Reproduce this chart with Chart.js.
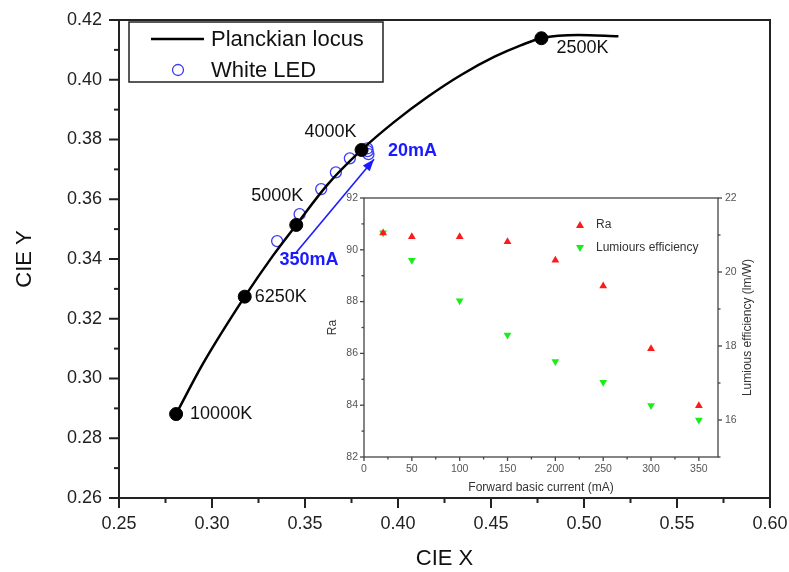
<!DOCTYPE html>
<html>
<head>
<meta charset="utf-8">
<script src="https://cdn.jsdelivr.net/npm/chart.js@4.4.1/dist/chart.umd.min.js"></script>
<style>
    body { margin: 0; background: #fff; }
    #wrap { position: relative; width: 789px; height: 572px; }
    #inset { position: absolute; left: 320px; top: 180px; }
</style>
</head>
<body>
<div id="wrap">
    <canvas id="main" width="789" height="572"></canvas>
    <canvas id="inset" width="445" height="315"></canvas>
</div>
<script>
// datos
const locusX = [0.2807, 0.2950, 0.3176, 0.3324, 0.3453, 0.3620, 0.3804, 0.3980, 0.4160, 0.4339, 0.4519, 0.4663, 0.4771, 0.4969, 0.5185];
const locusY = [0.2881, 0.3048, 0.3274, 0.3408, 0.3514, 0.3648, 0.3765, 0.3859, 0.3943, 0.4016, 0.4077, 0.4116, 0.4139, 0.4150, 0.4146];

const cctLabels = ['10000K', '6250K', '5000K', '4000K', '2500K'];
const cctX = [0.2807, 0.3176, 0.3453, 0.3804, 0.4771];
const cctY = [0.2881, 0.3274, 0.3514, 0.3765, 0.4139];

const currentMA = [20, 50, 100, 150, 200, 250, 300, 350];
const ledX = [0.3841, 0.3837, 0.3835, 0.3741, 0.3666, 0.3587, 0.3471, 0.3350];
const ledY = [0.3751, 0.3761, 0.3770, 0.3737, 0.3690, 0.3634, 0.3550, 0.3460];

const arrowLabels = ['350mA', '20mA'];
const arrowX = [0.3449, 0.3871];
const arrowY = [0.3419, 0.3734];

const raValues = [90.65, 90.5, 90.5, 90.31, 89.6, 88.6, 86.18, 83.98];
const efficiency = [21.06, 20.32, 19.22, 18.3, 17.58, 17.02, 16.39, 16.0];

const FONT = '"Liberation Sans", Arial, sans-serif';
Chart.defaults.font.family = FONT;

const pares = (xs, ys) => xs.map((x, i) => ({ x: x, y: ys[i] }));

// tamaño fijo del eje, sin el relleno extra que Chart.js pone por las etiquetas
const fijarEje = (prop, valor) => s => {
    s[prop] = valor;
    s.paddingTop = 0; s.paddingBottom = 0; s.paddingLeft = 0; s.paddingRight = 0;
};

// marco y marcas de los ejes (mayores y menores)
const marcasEjes = {
    id: 'marcasEjes',
    afterDraw(chart, args, opts) {
        const { ctx, chartArea: a } = chart;
        ctx.save();
        ctx.strokeStyle = opts.color;
        ctx.lineWidth = opts.width;
        ctx.strokeRect(a.left, a.top, a.right - a.left, a.bottom - a.top);
        for (const ax of opts.axes) {
            const s = chart.scales[ax.id];
            const n = Math.floor((s.max - s.min) / ax.minor + 1e-6);
            for (let i = 0; i <= n; i++) {
                const v = s.min + i * ax.minor;
                const esMayor = Math.abs(v / ax.major - Math.round(v / ax.major)) < 1e-6;
                const len = esMayor ? opts.major : opts.minor;
                const p = s.getPixelForValue(v);
                ctx.beginPath();
                if (ax.side === 'bottom') { ctx.moveTo(p, a.bottom); ctx.lineTo(p, a.bottom + len); }
                if (ax.side === 'left') { ctx.moveTo(a.left, p); ctx.lineTo(a.left - len, p); }
                if (ax.side === 'right') { ctx.moveTo(a.right, p); ctx.lineTo(a.right + len, p); }
                ctx.stroke();
            }
        }
        ctx.restore();
    }
};

// etiquetas, flecha y leyenda del grafico principal
const anotaciones = {
    id: 'anotaciones',
    afterDatasetsDraw(chart) {
        const { ctx, chartArea: a } = chart;
        const sx = chart.scales.x, sy = chart.scales.y;
        ctx.save();

        // flecha
        const x0 = sx.getPixelForValue(arrowX[0]), y0 = sy.getPixelForValue(arrowY[0]);
        const x1 = sx.getPixelForValue(arrowX[1]), y1 = sy.getPixelForValue(arrowY[1]);
        const ang = Math.atan2(y1 - y0, x1 - x0);
        ctx.fillStyle = '#1a1aff';
        ctx.beginPath();
        ctx.moveTo(x1, y1);
        ctx.lineTo(x1 - 12 * Math.cos(ang) + 4.5 * Math.sin(ang), y1 - 12 * Math.sin(ang) - 4.5 * Math.cos(ang));
        ctx.lineTo(x1 - 12 * Math.cos(ang) - 4.5 * Math.sin(ang), y1 - 12 * Math.sin(ang) + 4.5 * Math.cos(ang));
        ctx.closePath();
        ctx.fill();

        ctx.font = 'bold 18px ' + FONT;
        ctx.textBaseline = 'middle';
        ctx.textAlign = 'left';
        ctx.fillText(arrowLabels[0], x0 - 16, y0 + 7);
        ctx.fillText(arrowLabels[1], x1 + 14, y1 - 8);

        // temperaturas de color
        const offs = [[14, 0, 'left'], [10, 0, 'left'], [7, -29, 'right'], [-5, -18, 'right'], [15, 10, 'left']];
        ctx.font = '18px ' + FONT;
        ctx.fillStyle = '#111';
        cctLabels.forEach((t, i) => {
            ctx.textAlign = offs[i][2];
            ctx.fillText(t, sx.getPixelForValue(cctX[i]) + offs[i][0], sy.getPixelForValue(cctY[i]) + offs[i][1]);
        });

        // leyenda
        const lx = a.left + 10, ly = a.top + 2;
        ctx.fillStyle = '#fff';
        ctx.fillRect(lx, ly, 254, 60);
        ctx.strokeStyle = '#222';
        ctx.lineWidth = 1.5;
        ctx.strokeRect(lx, ly, 254, 60);
        ctx.strokeStyle = '#000';
        ctx.lineWidth = 2.5;
        ctx.beginPath();
        ctx.moveTo(lx + 22, ly + 17);
        ctx.lineTo(lx + 75, ly + 17);
        ctx.stroke();
        ctx.strokeStyle = '#3c3cf5';
        ctx.lineWidth = 1.3;
        ctx.beginPath();
        ctx.arc(lx + 49, ly + 48, 5.5, 0, Math.PI * 2);
        ctx.stroke();
        ctx.fillStyle = '#111';
        ctx.font = '22px ' + FONT;
        ctx.textAlign = 'left';
        ctx.fillText('Planckian locus', lx + 82, ly + 18);
        ctx.fillText('White LED', lx + 82, ly + 49);
        ctx.restore();
    }
};

new Chart(document.getElementById('main'), {
    type: 'scatter',
    data: {
        datasets: [
            {
                label: 'Planckian locus',
                data: pares(locusX, locusY),
                showLine: true,
                borderColor: '#000',
                borderWidth: 2.5,
                pointRadius: 0,
                cubicInterpolationMode: 'monotone'
            },
            {
                label: 'CCT',
                data: pares(cctX, cctY),
                pointRadius: 6.5,
                backgroundColor: '#000',
                borderColor: '#000'
            },
            {
                label: 'White LED',
                data: pares(ledX, ledY),
                pointRadius: 5.5,
                borderWidth: 1.3,
                borderColor: '#3c3cf5',
                backgroundColor: 'rgba(0,0,0,0)'
            },
            {
                label: 'arrow',
                data: pares(arrowX, arrowY),
                showLine: true,
                borderColor: '#1a1aff',
                borderWidth: 1.6,
                pointRadius: 0
            }
        ]
    },
    options: {
        responsive: false,
        animation: false,
        devicePixelRatio: 1,
        layout: { padding: { top: 20, right: 19, left: 0, bottom: 0 } },
        scales: {
            x: {
                type: 'linear', min: 0.25, max: 0.60,
                grid: { display: false, drawTicks: false },
                border: { display: false },
                ticks: { stepSize: 0.05, padding: 15, color: '#222', font: { size: 18 }, callback: v => v.toFixed(2) },
                title: { display: true, text: 'CIE X', color: '#111', font: { size: 22 }, padding: { top: 0, bottom: 0 } },
                afterFit: fijarEje('height', 74)
            },
            y: {
                type: 'linear', min: 0.26, max: 0.42,
                grid: { display: false, drawTicks: false },
                border: { display: false },
                ticks: { stepSize: 0.02, padding: 17, color: '#222', font: { size: 18 }, callback: v => v.toFixed(2) },
                title: { display: true, text: 'CIE Y', color: '#111', font: { size: 22 }, padding: { top: 12, bottom: 0 } },
                afterFit: fijarEje('width', 119)
            }
        },
        plugins: {
            legend: { display: false },
            tooltip: { enabled: false },
            marcasEjes: {
                color: '#222', width: 2, major: 10, minor: 5,
                axes: [
                    { id: 'x', side: 'bottom', major: 0.05, minor: 0.025 },
                    { id: 'y', side: 'left', major: 0.02, minor: 0.01 }
                ]
            }
        }
    },
    plugins: [marcasEjes, anotaciones]
});

// leyenda y titulo derecho del grafico insertado
const extrasInset = {
    id: 'extrasInset',
    afterDraw(chart) {
        const { ctx, chartArea: a } = chart;
        ctx.save();
        const lx = a.left + 216, ly = a.top + 27;
        [['#ff1a1a', 0, 'Ra'], ['#1aee1a', Math.PI, 'Lumiours efficiency']].forEach((it, i) => {
            const y = ly + i * 23;
            ctx.fillStyle = it[0];
            ctx.beginPath();
            const d = it[1] ? -1 : 1;
            ctx.moveTo(lx, y - 4 * d);
            ctx.lineTo(lx + 4, y + 3 * d);
            ctx.lineTo(lx - 4, y + 3 * d);
            ctx.closePath();
            ctx.fill();
            ctx.fillStyle = '#333';
            ctx.font = '12px ' + FONT;
            ctx.textAlign = 'left';
            ctx.textBaseline = 'middle';
            ctx.fillText(it[2], lx + 16, y);
        });
        ctx.translate(a.right + 30, (a.top + a.bottom) / 2);
        ctx.rotate(-Math.PI / 2);
        ctx.textAlign = 'center';
        ctx.fillStyle = '#333';
        ctx.font = '12px ' + FONT;
        ctx.fillText('Lumious efficiency (lm/W)', 0, 0);
        ctx.restore();
    }
};

new Chart(document.getElementById('inset'), {
    type: 'scatter',
    data: {
        datasets: [
            {
                label: 'Ra',
                data: pares(currentMA, raValues),
                yAxisID: 'y',
                pointStyle: 'triangle',
                pointRadius: 4.5,
                backgroundColor: '#ff1a1a',
                borderColor: '#ff1a1a',
                borderWidth: 0
            },
            {
                label: 'Lumiours efficiency',
                data: pares(currentMA, efficiency),
                yAxisID: 'y2',
                pointStyle: 'triangle',
                rotation: 180,
                pointRadius: 4.5,
                backgroundColor: '#1aee1a',
                borderColor: '#1aee1a',
                borderWidth: 0
            }
        ]
    },
    options: {
        responsive: false,
        animation: false,
        devicePixelRatio: 1,
        layout: { padding: { top: 18, right: 0, left: 0, bottom: 0 } },
        scales: {
            x: {
                type: 'linear', min: 0, max: 370,
                grid: { display: false, drawTicks: false },
                border: { display: false },
                ticks: { stepSize: 50, includeBounds: false, padding: 6, color: '#555', font: { size: 10.5 } },
                title: { display: true, text: 'Forward basic current (mA)', color: '#333', font: { size: 12 }, padding: { top: 0, bottom: 0 } },
                afterFit: fijarEje('height', 38)
            },
            y: {
                type: 'linear', position: 'left', min: 82, max: 92,
                grid: { display: false, drawTicks: false },
                border: { display: false },
                ticks: { stepSize: 2, padding: 6, color: '#555', font: { size: 10.5 } },
                title: { display: true, text: 'Ra', color: '#333', font: { size: 12 }, padding: { top: 5, bottom: 0 } },
                afterFit: fijarEje('width', 44)
            },
            y2: {
                type: 'linear', position: 'right', min: 15, max: 22,
                grid: { display: false, drawTicks: false },
                border: { display: false },
                ticks: { stepSize: 2, includeBounds: false, padding: 7, color: '#555', font: { size: 10.5 } },
                afterFit: fijarEje('width', 47)
            }
        },
        plugins: {
            legend: { display: false },
            tooltip: { enabled: false },
            marcasEjes: {
                color: '#444', width: 1.3, major: 4, minor: 2.5,
                axes: [
                    { id: 'x', side: 'bottom', major: 50, minor: 25 },
                    { id: 'y', side: 'left', major: 2, minor: 1 },
                    { id: 'y2', side: 'right', major: 2, minor: 1 }
                ]
            }
        }
    },
    plugins: [marcasEjes, extrasInset]
});
</script>
</body>
</html>
